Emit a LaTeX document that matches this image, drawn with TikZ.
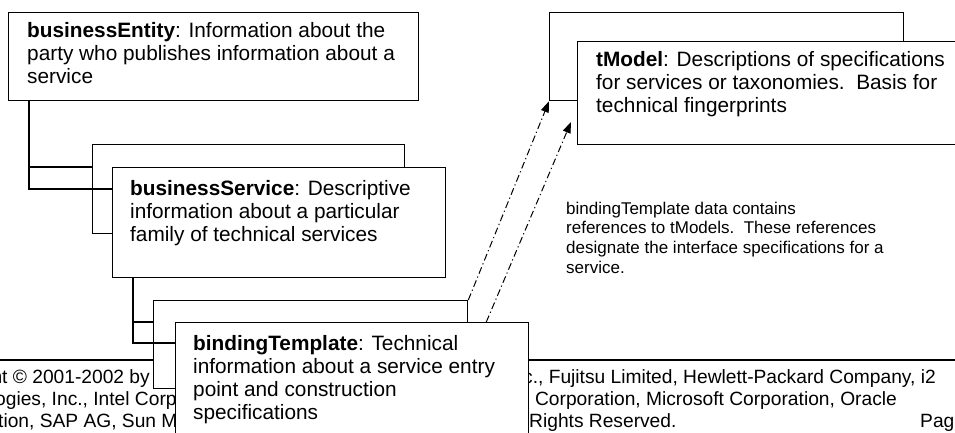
\documentclass[tikz,border=0pt]{standalone}
\usepackage{fontspec}
\setmainfont{Liberation Sans}
\usetikzlibrary{arrows.meta}

% multi-line label whose baseline is the baseline of its first line
\newcommand{\cardtext}[1]{\begin{tabular}[t]{@{}l@{}}#1\end{tabular}}

\begin{document}
\begin{tikzpicture}[x=1pt,y=-1pt,
  card/.style={draw, line width=1.3pt, fill=white, inner sep=0pt, anchor=north west},
  cardlabel/.style={anchor=base west, inner sep=0pt, font=\fontsize{20.8}{23}\selectfont},
  link/.style={line width=1.3pt},
  refarrow/.style={line width=1pt, dash pattern=on 7pt off 3pt on 1.2pt off 3pt,
    -{Triangle[length=11pt,width=8pt]}},
  foot/.style={inner sep=0pt, font=\fontsize{19.2}{22}\selectfont},
  note/.style={anchor=base west, inner sep=0pt, font=\fontsize{17}{19.7}\selectfont}]

\useasboundingbox (0,0) rectangle (955,433);
\clip (0,0) rectangle (955,433);

% page footer, partly hidden behind the cards
\coordinate (ruleL) at (0,360);
\coordinate (ruleR) at (955,360);
\draw[line width=1.5pt] (ruleL) -- (ruleR);
\node[foot, anchor=base east] (footA1) at (150,383) {ht © 2001-2002 by};
\node[foot, anchor=base west] (footA2) at (-5,405) {ogies, Inc., Intel Corp};
\node[foot, anchor=base west] (footA3) at (-2,427) {tion, SAP AG, Sun M};
\node[foot, anchor=base west] (footB1) at (523,383) {c., Fujitsu Limited, Hewlett-Packard Company, i2};
\node[foot, anchor=base west] (footB2) at (520,405) {s Corporation, Microsoft Corporation, Oracle};
\node[foot, anchor=base west] (footB3) at (529,427) {Rights Reserved.};
\node[foot, anchor=base west] (footPage) at (920,427) {Pag};

% businessEntity
\node[card, minimum width=410pt, minimum height=88pt] (be) at (8,12) {};
\node[cardlabel] (beText) at (27,38) {\cardtext{\textbf{businessEntity}: Information about the\\
  party who publishes information about a\\service}};

% businessService (stacked)
\node[card, minimum width=312pt, minimum height=89pt] (bsBack) at (92,144) {};
\node[card, minimum width=333pt, minimum height=110pt] (bsFront) at (112,167) {};
\node[cardlabel] (bsText) at (130,195) {\cardtext{\textbf{businessService}: Descriptive\\
  information about a particular\\family of technical services}};

% bindingTemplate (stacked)
\node[card, minimum width=314pt, minimum height=88pt] (btBack) at (153,300) {};
\node[card, minimum width=353pt, minimum height=130pt] (btFront) at (175,322) {};
\node[cardlabel] (btText) at (193,350) {\cardtext{\textbf{bindingTemplate}: Technical\\
  information about a service entry\\point and construction\\specifications}};

% tModel (stacked)
\node[card, minimum width=354pt, minimum height=88pt] (tmBack) at (549,12) {};
\node[card, minimum width=400pt, minimum height=103pt] (tmFront) at (577,41) {};
\node[cardlabel] (tmText) at (596,67) {\cardtext{\textbf{tModel}: Descriptions of specifications\\
  for services or taxonomies.\ \ Basis for\\technical fingerprints}};

% note on the references
\node[note] (refNote) at (566,214) {\cardtext{bindingTemplate data contains\\
  references to tModels.\ \ These references\\
  designate the interface specifications for a\\service.}};

% containment links
\coordinate (beTrunk) at ([xshift=21pt]be.south west);
\draw[link] (beTrunk) |- ([yshift=-22pt]bsFront.north west);
\draw[link] (beTrunk |- bsFront.north) -- (bsBack.west |- bsFront.north);

\coordinate (bsTrunk) at ([xshift=21pt]bsFront.south west);
\draw[link] (bsTrunk) |- ([yshift=-21pt]btFront.north west);
\draw[link] (bsTrunk |- btFront.north) -- (btBack.west |- btFront.north);

% references from bindingTemplate to tModel
\coordinate (btRefStart) at ([xshift=-43pt]btFront.north east);
\coordinate (tmHit) at (571,122);
\draw[refarrow] (btBack.north east) -- (tmBack.south west);
\draw[refarrow] (btRefStart) -- (tmHit);

\end{tikzpicture}
\end{document}
